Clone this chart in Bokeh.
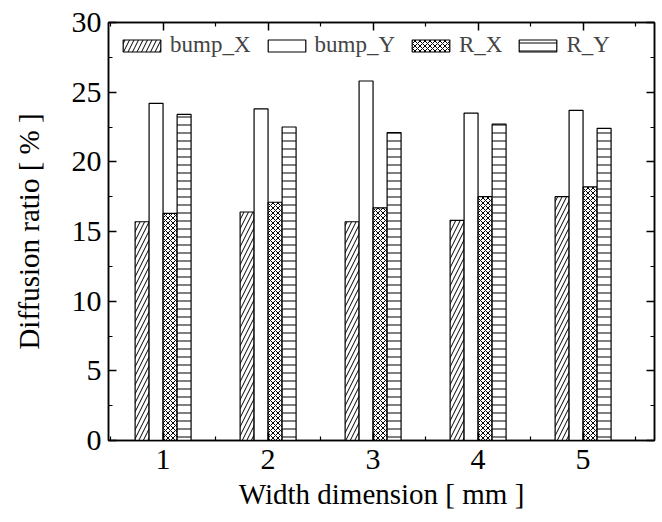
from bokeh.plotting import figure
from bokeh.models import (ColumnDataSource, FixedTicker, LinearAxis, Legend, LegendItem,
                          Range1d, CustomLabelingPolicy)
from bokeh.embed import file_html
from bokeh.resources import INLINE

widths = [1, 2, 3, 4, 5]
bump_X = [15.7, 16.4, 15.7, 15.8, 17.5]
bump_Y = [24.2, 23.8, 25.8, 23.5, 23.7]
R_X = [16.3, 17.1, 16.7, 17.5, 18.2]
R_Y = [23.4, 22.5, 22.1, 22.7, 22.4]
y_ticks = [0, 5, 10, 15, 20, 25, 30]

series = [("bump_X", bump_X, -0.2), ("bump_Y", bump_Y, -0.067),
          ("R_X", R_X, 0.067), ("R_Y", R_Y, 0.2)]
hatch = {"bump_X": ("/", 9.0), "bump_Y": (" ", 8.0), "R_X": ("x", 5.0), "R_Y": ("-", 8.0)}

FONT = "Liberation Serif"

p = figure(frame_width=546, frame_height=418, output_backend="svg", toolbar_location=None,
           x_range=Range1d(0.48, 5.68), y_range=Range1d(0, 30),
           min_border_left=108, min_border_right=8, min_border_top=22, min_border_bottom=82)
p.xgrid.visible = False
p.ygrid.visible = False
p.outline_line_color = "black"
p.outline_line_width = 1.5

items = []
for name, vals, off in series:
    src = ColumnDataSource(dict(x=[w + off for w in widths], top=vals))
    pat, sc = hatch[name]
    r = p.vbar(x="x", top="top", width=0.133, source=src, fill_color="white",
               line_color="black", line_width=1.2,
               hatch_pattern=pat, hatch_scale=sc, hatch_color="black", hatch_weight=1)
    items.append(LegendItem(label=name, renderers=[r]))

for ax in (p.xaxis[0], p.yaxis[0]):
    ax.axis_line_width = 1.5
    ax.major_tick_line_width = 1.5
    ax.minor_tick_line_width = 1.2
    ax.major_tick_in = 8
    ax.major_tick_out = 0
    ax.minor_tick_in = 4
    ax.minor_tick_out = 0
    ax.major_label_text_font = FONT
    ax.major_label_text_font_size = "30px"
    ax.major_label_text_color = "black"
    ax.axis_label_text_font = FONT
    ax.axis_label_text_font_size = "29px"
    ax.axis_label_text_font_style = "normal"
    ax.axis_label_text_color = "black"

p.xaxis[0].ticker = FixedTicker(ticks=widths, minor_ticks=[0.5, 1.5, 2.5, 3.5, 4.5, 5.5])
p.yaxis[0].ticker = FixedTicker(ticks=y_ticks,
                                minor_ticks=[2.5, 7.5, 12.5, 17.5, 22.5, 27.5])
p.xaxis[0].axis_label = "Width dimension [ mm ]"
p.yaxis[0].axis_label = "Diffusion ratio [ % ]"
p.xaxis[0].major_label_standoff = 9
p.yaxis[0].major_label_standoff = 7
p.xaxis[0].axis_label_standoff = 6
p.yaxis[0].axis_label_standoff = 24

no_labels = CustomLabelingPolicy(code="return new Set()")
for loc, tk in (("above", p.xaxis[0].ticker), ("right", p.yaxis[0].ticker)):
    ax = LinearAxis(ticker=tk, major_label_policy=no_labels, major_label_text_font_size="1px",
                    major_tick_in=8, major_tick_out=0, minor_tick_in=4, minor_tick_out=0,
                    axis_line_width=1.5, major_tick_line_width=1.5, minor_tick_line_width=1.2,
                    major_label_standoff=0)
    p.add_layout(ax, loc)

leg = Legend(items=items, orientation="horizontal", location="top_left",
             border_line_color=None, background_fill_alpha=0,
             glyph_width=47, glyph_height=15, label_standoff=5, spacing=12,
             label_text_font=FONT, label_text_font_size="23px",
             padding=0, margin=10)
p.add_layout(leg, "center")

open("out.html", "w").write(file_html(p, INLINE))
